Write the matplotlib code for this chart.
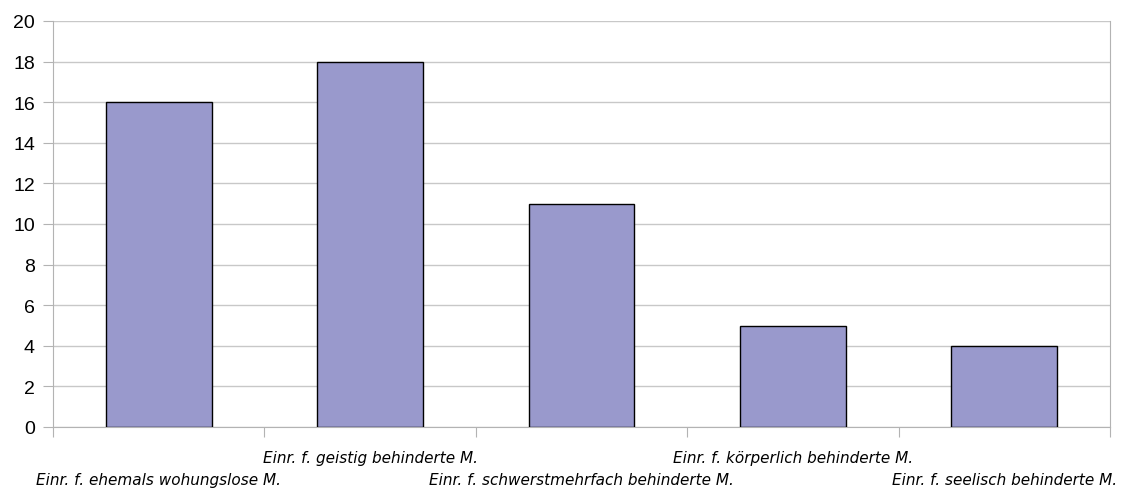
import matplotlib
matplotlib.use("Agg")
import matplotlib.pyplot as plt
from matplotlib.ticker import FixedLocator
import matplotlib.transforms as mtransforms

categories = [
    "Einr. f. ehemals wohungslose M.",
    "Einr. f. geistig behinderte M.",
    "Einr. f. schwerstmehrfach behinderte M.",
    "Einr. f. körperlich behinderte M.",
    "Einr. f. seelisch behinderte M.",
]
values = [16, 18, 11, 5, 4]
y_ticks = [0, 2, 4, 6, 8, 10, 12, 14, 16, 18, 20]

plt.rcParams["font.family"] = ["Liberation Sans", "DejaVu Sans"]

fig = plt.figure(figsize=(11.23, 4.89), dpi=100)
ax = fig.add_axes([53 / 1123, 1 - 428 / 489, (1110 - 53) / 1123, (428 - 22) / 489])

x = list(range(len(categories)))
ax.bar(x, values, width=0.5, color="#9999cc", edgecolor="black", linewidth=1, zorder=3)

ax.set_xlim(-0.5, len(categories) - 0.5)
ax.set_ylim(0, 20)
ax.set_yticks(y_ticks)
ax.yaxis.grid(True, color="#c8c8c8", linewidth=1, zorder=0)
ax.tick_params(axis="y", length=7, color="#b3b3b3", labelsize=14, pad=6)

# category boundaries as ticks, labels drawn as staggered text
ax.xaxis.set_major_locator(FixedLocator([i - 0.5 for i in range(len(categories) + 1)]))
ax.set_xticklabels([])
ax.tick_params(axis="x", length=7, color="#b3b3b3")

for s in ("left", "right", "bottom"):
    ax.spines[s].set_color("#b3b3b3")
ax.spines["top"].set_visible(False)

trans = mtransforms.blended_transform_factory(ax.transData, ax.transAxes)
for i, lab in enumerate(categories):
    yy = -0.056 if i % 2 == 1 else -0.110
    ax.text(i, yy, lab, transform=trans, ha="center", va="top",
            fontsize=11, style="italic", color="black", family="DejaVu Sans")

fig.savefig("out.png", dpi=100)
